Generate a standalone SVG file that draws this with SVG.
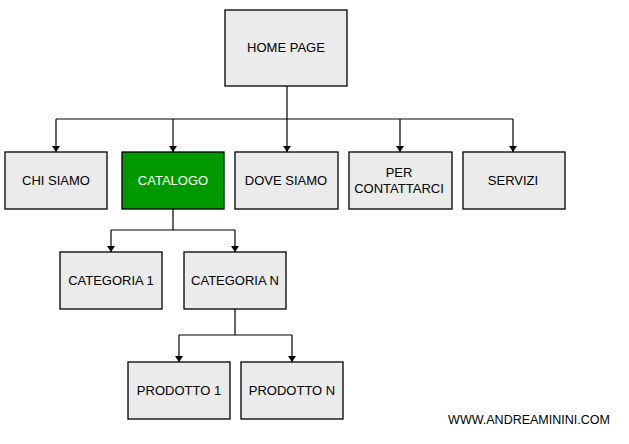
<svg xmlns="http://www.w3.org/2000/svg" width="629" height="444" viewBox="0 0 629 444">
<style>
.box{fill:#ebebeb;stroke:#000;stroke-width:1.3}
.t{font-family:"Liberation Sans",Arial,sans-serif;font-size:13px;fill:#000;text-anchor:middle}
.c{fill:none;stroke:#000;stroke-width:1.2}
</style>
<defs>
<marker id="a" markerWidth="6" markerHeight="8" refX="6" refY="4" orient="auto" markerUnits="userSpaceOnUse" viewBox="0 0 6 8">
<path d="M0,0 L6,4 L0,8 Z" fill="#000"/>
</marker>
</defs>
<rect width="629" height="444" fill="#fff"/>
<g id="connectors">
<path class="c" d="M287,86 V119"/>
<path class="c" d="M56,119 H513"/>
<path class="c" d="M56,119 V152" marker-end="url(#a)"/>
<path class="c" d="M173,119 V152" marker-end="url(#a)"/>
<path class="c" d="M287,119 V152" marker-end="url(#a)"/>
<path class="c" d="M400,119 V152" marker-end="url(#a)"/>
<path class="c" d="M513,119 V152" marker-end="url(#a)"/>
<path class="c" d="M173,209 V230 M111,230 H235"/>
<path class="c" d="M111,230 V252" marker-end="url(#a)"/>
<path class="c" d="M235,230 V252" marker-end="url(#a)"/>
<path class="c" d="M235,309 V335 M179,335 H292"/>
<path class="c" d="M179,335 V362" marker-end="url(#a)"/>
<path class="c" d="M292,335 V362" marker-end="url(#a)"/>
</g>
<g id="home"><rect class="box" x="225" y="10" width="122" height="76"/><text class="t" x="286" y="52">HOME PAGE</text></g>
<g id="chisiamo"><rect class="box" x="5" y="152" width="102" height="57"/><text class="t" x="56" y="185">CHI SIAMO</text></g>
<g id="catalogo"><rect x="122" y="152" width="102" height="57" fill="#009900" stroke="#000" stroke-width="1.3"/><text class="t" x="173" y="185" style="fill:#fff">CATALOGO</text></g>
<g id="dovesiamo"><rect class="box" x="235" y="152" width="103" height="57"/><text class="t" x="286" y="185">DOVE SIAMO</text></g>
<g id="contattarci"><rect class="box" x="349" y="152" width="103" height="57"/><text class="t" x="399" y="177">PER</text><text class="t" x="399" y="193">CONTATTARCI</text></g>
<g id="servizi"><rect class="box" x="463" y="152" width="102" height="57"/><text class="t" x="513" y="185">SERVIZI</text></g>
<g id="categoria1"><rect class="box" x="60" y="252" width="102" height="57"/><text class="t" x="111" y="285">CATEGORIA 1</text></g>
<g id="categorian"><rect class="box" x="184" y="252" width="102" height="57"/><text class="t" x="235" y="285">CATEGORIA N</text></g>
<g id="prodotto1"><rect class="box" x="128" y="362" width="102" height="57"/><text class="t" x="179" y="395">PRODOTTO 1</text></g>
<g id="prodotton"><rect class="box" x="241" y="362" width="102" height="57"/><text class="t" x="292" y="395">PRODOTTO N</text></g>
<text class="t" x="529" y="424" style="font-size:12.5px">WWW.ANDREAMININI.COM</text>
</svg>
